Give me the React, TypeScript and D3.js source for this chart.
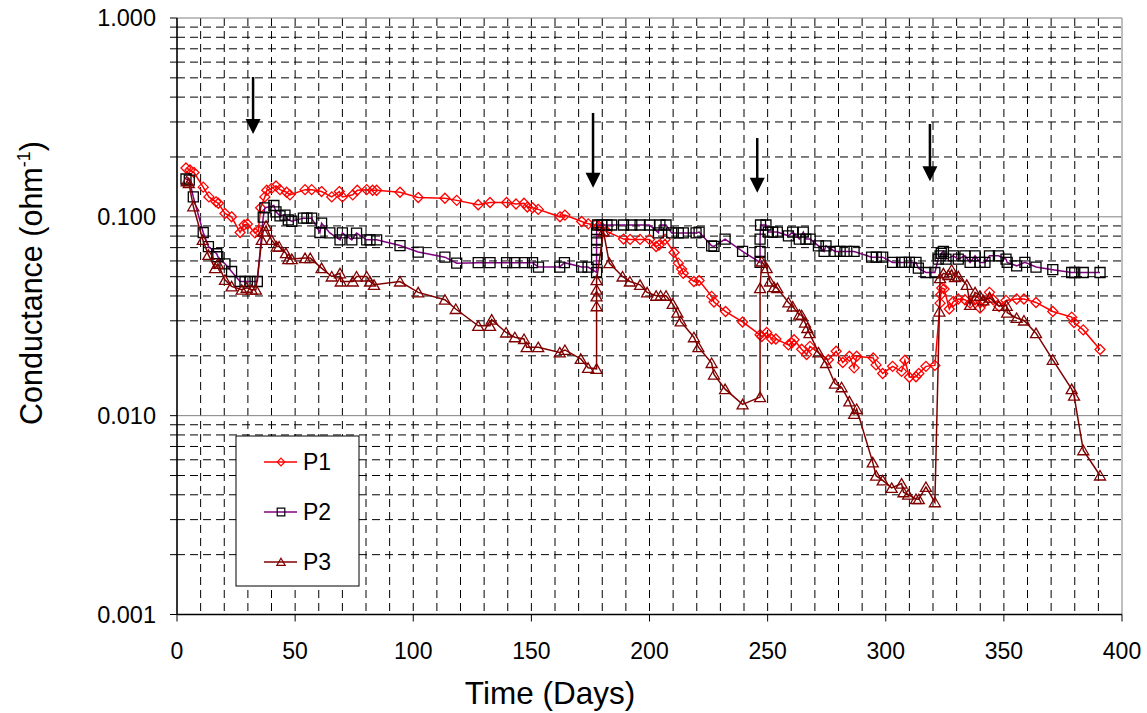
import React from 'react';
import * as d3 from 'd3';

// [day, conductance]
const p1: [number, number][] = [
  [3.8, 0.176], [5.5, 0.172], [7.2, 0.167], [11.1, 0.141], [13.5, 0.126], [16.5, 0.119], [17.5, 0.117],
  [20.3, 0.104], [23.1, 0.1], [26.7, 0.0834], [28.4, 0.091], [29.8, 0.092], [33, 0.083], [34.4, 0.085],
  [35.4, 0.111], [37.2, 0.126], [38, 0.136], [40, 0.139], [41.9, 0.143], [43.6, 0.137], [46.4, 0.133],
  [47.8, 0.129], [54.2, 0.137], [57, 0.137], [61.2, 0.134], [65.5, 0.126], [68.7, 0.134], [70, 0.126],
  [74.4, 0.129], [76.3, 0.136], [80.3, 0.137], [82.8, 0.136], [84.5, 0.136], [94.4, 0.133], [102.1, 0.125],
  [113.4, 0.124], [118.4, 0.121], [127.5, 0.115], [132.5, 0.118], [139.5, 0.118], [143.5, 0.116],
  [146.9, 0.117], [148.3, 0.112], [150.5, 0.111], [152.9, 0.109], [162.1, 0.1], [164.2, 0.102],
  [171.3, 0.0947], [174.1, 0.0922], [177, 0.091], [178.5, 0.09], [180, 0.088], [181.9, 0.0844],
  [189, 0.0773], [191.8, 0.077], [196, 0.077], [200, 0.077], [202.8, 0.0709], [204, 0.072], [206.6, 0.077],
  [210.4, 0.0662], [212.2, 0.0585], [213.6, 0.0546], [214.3, 0.052], [218.8, 0.0473], [221, 0.0478],
  [226.3, 0.0398], [227.3, 0.0373], [232.2, 0.0334], [239.4, 0.0296], [246.8, 0.0255], [247.5, 0.025],
  [249.6, 0.0262], [251.7, 0.0243], [253.5, 0.0243], [258.8, 0.0227], [260.2, 0.0232], [261.2, 0.0241],
  [264.4, 0.0216], [266.5, 0.0203], [267.9, 0.0223], [275.7, 0.0191], [279, 0.0211], [281.8, 0.0185],
  [284.6, 0.0199], [286.6, 0.0174], [287.7, 0.0199], [294.7, 0.0195], [295.9, 0.018], [298.7, 0.0163],
  [302.9, 0.0177], [306.7, 0.0167], [308.1, 0.019], [310, 0.0156], [312.8, 0.0157], [314, 0.0163],
  [317, 0.0177], [320.8, 0.0179], [323, 0.0368], [323.3, 0.0406], [323.7, 0.0438], [324.7, 0.0434],
  [326.9, 0.0344], [328.6, 0.0375], [330.7, 0.0386], [333.5, 0.0383], [335.7, 0.0368], [337.8, 0.0383],
  [339.9, 0.0348], [342, 0.0375], [343.9, 0.0417], [345.5, 0.0383], [348, 0.0354], [350.9, 0.038],
  [355.4, 0.0386], [358.5, 0.0386], [363.6, 0.0371], [370.7, 0.0334], [378.7, 0.0313], [379.7, 0.0294],
  [383.6, 0.027], [390.7, 0.0215],
];

const p2: [number, number][] = [
  [3.8, 0.155], [5.2, 0.153], [6.9, 0.126], [11.1, 0.0834], [13.3, 0.0709], [16.8, 0.0652], [17.3, 0.063],
  [20.3, 0.058], [23.1, 0.0531], [26.7, 0.0473], [28.8, 0.0473], [30.9, 0.0473], [34, 0.0473],
  [36.5, 0.0996], [37.2, 0.111], [41, 0.114], [41.9, 0.106], [43.6, 0.101], [45.7, 0.102], [47.1, 0.0966],
  [48.6, 0.095], [53.5, 0.0985], [55, 0.0985], [57, 0.0985], [60.5, 0.0834], [61.2, 0.093], [64.7, 0.083],
  [69, 0.0766], [70, 0.083], [74, 0.0766], [76, 0.0828], [80.3, 0.0766], [81.7, 0.0766], [84.5, 0.0766],
  [94.4, 0.0717], [102.1, 0.0665], [113.4, 0.0627], [118.4, 0.0585], [127.5, 0.0588], [132.5, 0.0588],
  [139.5, 0.0588], [143, 0.0588], [147, 0.0588], [150.5, 0.0588], [153, 0.0559], [162, 0.0559],
  [164, 0.0588], [171.3, 0.0559], [174, 0.0559], [177.6, 0.0525], [177.6, 0.061], [177.6, 0.068],
  [177.6, 0.077], [177.6, 0.083], [178, 0.091], [179.8, 0.091], [182, 0.091], [184, 0.091], [189, 0.091],
  [192.5, 0.091], [196, 0.091], [200, 0.091], [203.8, 0.083], [204.4, 0.091], [207, 0.091], [209.4, 0.083],
  [212.2, 0.083], [214.3, 0.083], [219.7, 0.083], [221, 0.0838], [226.3, 0.0715], [227.3, 0.071],
  [232, 0.0773], [239.4, 0.067], [246.8, 0.059], [246.8, 0.067], [246.8, 0.0773], [247, 0.091],
  [249.3, 0.091], [250.3, 0.0838], [252.1, 0.0838], [254.1, 0.0838], [258.8, 0.0803], [260.6, 0.0838],
  [263.4, 0.0773], [265.1, 0.0838], [266.2, 0.0773], [268, 0.0773], [271.5, 0.0715], [273.9, 0.067],
  [274.7, 0.0715], [278.5, 0.067], [280.7, 0.067], [283.5, 0.067], [286.6, 0.067], [294, 0.0627],
  [296, 0.0627], [298.7, 0.0627], [302.9, 0.059], [306.7, 0.059], [308.1, 0.059], [310, 0.059],
  [312.8, 0.059], [313.8, 0.0552], [317, 0.0525], [320.8, 0.0525], [322.2, 0.0613], [323, 0.0637],
  [323.5, 0.0656], [324.4, 0.067], [325.5, 0.0613], [328.6, 0.0637], [330.7, 0.0613], [333.5, 0.0637],
  [335.7, 0.059], [337.8, 0.0637], [339.9, 0.059], [342, 0.059], [343.9, 0.0637], [347.7, 0.0637],
  [350.9, 0.0613], [351.4, 0.059], [355.4, 0.0567], [358.9, 0.059], [363.6, 0.0559], [370.7, 0.0542],
  [378.7, 0.0525], [380, 0.0525], [383.6, 0.0525], [390.7, 0.0525],
];

const p3: [number, number][] = [
  [4.1, 0.151], [5, 0.148], [6.9, 0.113], [10.9, 0.0766], [13.3, 0.0644], [16.1, 0.0552], [17.3, 0.058],
  [20.3, 0.0482], [23.1, 0.0447], [27.4, 0.043], [29.5, 0.044], [31.6, 0.043], [33.4, 0.043],
  [35.9, 0.0766], [36.5, 0.0844], [37.7, 0.0901], [40, 0.0766], [42.2, 0.0709], [43.2, 0.0709],
  [46.1, 0.0657], [47.1, 0.0613], [48.6, 0.0613], [54.2, 0.062], [56.4, 0.062], [61.2, 0.0552],
  [65.5, 0.0501], [69, 0.052], [69.3, 0.0473], [74.4, 0.0473], [76, 0.0501], [80.3, 0.0501],
  [81.7, 0.0473], [83.4, 0.0455], [94.4, 0.0473], [102.1, 0.0417], [113.4, 0.0383], [118, 0.0344],
  [127.5, 0.0283], [132.5, 0.0283], [133.2, 0.0304], [139.3, 0.0262], [143, 0.0248], [146.9, 0.0243],
  [148, 0.0221], [152.9, 0.0221], [162, 0.0208], [164.2, 0.0214], [170.9, 0.0193], [174, 0.0174],
  [177.6, 0.0172], [177.6, 0.0355], [177.6, 0.0398], [177.6, 0.043], [177.6, 0.048], [180.5, 0.0844],
  [183, 0.0585], [188.6, 0.0501], [191.7, 0.0473], [196, 0.0455], [199, 0.0417], [202.8, 0.0401],
  [204.7, 0.0401], [207, 0.0401], [209.8, 0.0365], [211.8, 0.033], [213.2, 0.0298], [218.8, 0.0248],
  [220.7, 0.0221], [226.3, 0.0184], [227.3, 0.0161], [232, 0.0136], [239.4, 0.0114], [246.8, 0.0124],
  [246.8, 0.0438], [247.5, 0.0596], [249.6, 0.0552], [251, 0.0473], [252.7, 0.0443], [254.1, 0.0438],
  [258.8, 0.0371], [260.6, 0.0354], [263.4, 0.0322], [264.4, 0.032], [265.8, 0.0294], [266.8, 0.0276],
  [267.7, 0.026], [271.5, 0.0208], [274.7, 0.0184], [278.5, 0.0145], [281.3, 0.0139], [284.6, 0.0118],
  [286.6, 0.0102], [287.7, 0.0108], [294.5, 0.00582], [295.9, 0.00499], [298.7, 0.00473],
  [302.5, 0.00433], [306.7, 0.00455], [307.5, 0.00412], [309.5, 0.00401], [312.8, 0.00381],
  [314, 0.0038], [317, 0.00438], [320.8, 0.00367], [322.7, 0.0334], [323, 0.0492], [324.4, 0.052],
  [326.5, 0.051], [327.9, 0.0542], [329.3, 0.0497], [330.7, 0.0502], [334.3, 0.0455], [335.7, 0.0361],
  [337.8, 0.0417], [339.9, 0.0401], [341.3, 0.038], [344, 0.0392], [347.7, 0.0357], [351.2, 0.0357],
  [351.4, 0.033], [355.4, 0.031], [358.5, 0.0301], [363.6, 0.026], [370.7, 0.0191], [378.7, 0.0136],
  [379.7, 0.0126], [383.6, 0.0067], [390.7, 0.005],
];

const seriesNames = ['P1', 'P2', 'P3'];
const xTickLabels = [0, 50, 100, 150, 200, 250, 300, 350, 400];

// arrows marking the events
const arrowDays = [32.2, 176.1, 245.6, 318.7];
const arrowFrom = [0.505, 0.333, 0.249, 0.293];
const arrowTo = [0.261, 0.14, 0.132, 0.151];

const W = 1147;
const H = 713;
const margin = { top: 18, right: 25, bottom: 98.5, left: 177 };
const font = "'Liberation Sans', Arial, sans-serif";

const styles = [
  { line: '#ff0000', marker: '#ff0000', shape: 'diamond' },
  { line: '#800080', marker: '#000000', shape: 'square' },
  { line: '#800000', marker: '#800000', shape: 'triangle' },
];

function markerPath(shape: string, r: number) {
  if (shape === 'diamond') return `M0,${-r}L${r},0L0,${r}L${-r},0Z`;
  if (shape === 'square') return `M${-r},${-r}H${r}V${r}H${-r}Z`;
  return `M0,${-r}L${r * 1.1},${r * 0.9}L${-r * 1.1},${r * 0.9}Z`;
}

export default function App() {
  const x = d3.scaleLinear().domain([0, 400]).range([margin.left, W - margin.right]);
  const y = d3.scaleLog().domain([0.001, 1]).range([H - margin.bottom, margin.top]);
  const [x0, x1] = x.range();
  const [yb, yt] = y.range();

  const line = d3.line<[number, number]>().x(d => x(d[0])).y(d => y(d[1]));
  const yAll = y.ticks();
  const yMajor = yAll.filter(v => Math.abs(Math.log10(v) - Math.round(Math.log10(v))) < 1e-9);
  const yMinor = yAll.filter(v => !yMajor.includes(v));
  const xGrid = d3.range(10, 400, 10);
  const data = [p1, p2, p3];

  return (
    <svg width={W} height={H} style={{ position: 'absolute', left: 0, top: 0, background: '#fff' }} fontFamily={font}>
      {/* grid */}
      {yMinor.map(v => (
        <line key={'hy' + v} x1={x0} x2={x1} y1={y(v)} y2={y(v)} stroke="#000" strokeWidth={1} strokeDasharray="8,5" />
      ))}
      {xGrid.map(v => (
        <line key={'vx' + v} x1={x(v)} x2={x(v)} y1={yt} y2={yb} stroke="#000" strokeWidth={1} strokeDasharray="8,5" />
      ))}
      {yMajor.filter(v => v > 0.001).map(v => (
        <line key={'my' + v} x1={x0} x2={x1} y1={y(v)} y2={y(v)} stroke="#808080" strokeWidth={1} />
      ))}
      <line x1={x1} x2={x1} y1={yt} y2={yb} stroke="#808080" strokeWidth={1} />

      {/* axes */}
      <line x1={x0} x2={x0} y1={yt} y2={yb} stroke="#000" strokeWidth={1.6} />
      <line x1={x0} x2={x1} y1={yb} y2={yb} stroke="#000" strokeWidth={1.6} />
      {yAll.map(v => (
        <line key={'ty' + v} x1={x0 - 7} x2={x0} y1={y(v)} y2={y(v)} stroke="#000" strokeWidth={1} />
      ))}
      {xTickLabels.map(v => (
        <g key={'tx' + v}>
          <line x1={x(v)} x2={x(v)} y1={yb} y2={yb + 7} stroke="#000" strokeWidth={1} />
          <text x={x(v)} y={yb + 44} fontSize={23} textAnchor="middle" fill="#000">{v}</text>
        </g>
      ))}
      {yMajor.map(v => (
        <text key={'ly' + v} x={x0 - 21} y={y(v)} dy="0.35em" fontSize={23.5} textAnchor="end" fill="#000">
          {d3.format('.3f')(v)}
        </text>
      ))}

      {/* series */}
      {data.map((s, i) => (
        <g key={'s' + i}>
          <path d={line(s) || ''} fill="none" stroke={styles[i].line} strokeWidth={1.5} />
          {s.map((d, j) => (
            <path key={j} d={markerPath(styles[i].shape, 5)} transform={`translate(${x(d[0])},${y(d[1])})`}
              fill="none" stroke={styles[i].marker} strokeWidth={1.3} />
          ))}
        </g>
      ))}

      {/* arrows */}
      {arrowDays.map((d, i) => {
        const ax = x(d);
        const ya = y(arrowFrom[i]);
        const yb2 = y(arrowTo[i]);
        return (
          <g key={'a' + i}>
            <line x1={ax} x2={ax} y1={ya} y2={yb2 - 12} stroke="#000" strokeWidth={2.5} />
            <path d={`M${ax - 7.5},${yb2 - 15}L${ax + 7.5},${yb2 - 15}L${ax},${yb2}Z`} fill="#000" />
          </g>
        );
      })}

      {/* legend */}
      <rect x={236} y={436} width={123} height={150} fill="#fff" stroke="#000" strokeWidth={1} />
      {seriesNames.map((n, i) => {
        const ly = 462 + i * 50;
        return (
          <g key={'lg' + n}>
            <line x1={264} x2={297} y1={ly} y2={ly} stroke={styles[i].line} strokeWidth={1.5} />
            <path d={markerPath(styles[i].shape, 3.8)} transform={`translate(281,${ly})`} fill="none"
              stroke={styles[i].marker} strokeWidth={1.2} />
            <text x={303} y={ly} dy="0.36em" fontSize={23} fill="#000">{n}</text>
          </g>
        );
      })}

      {/* titles */}
      <text x={550} y={704} fontSize={31.5} textAnchor="middle" fill="#000">Time (Days)</text>
      <text transform="translate(42,283) rotate(-90)" fontSize={30.5} textAnchor="middle" fill="#000">
        Conductance (ohm<tspan fontSize={18} dy={-12}>-1</tspan><tspan dy={12}>)</tspan>
      </text>
    </svg>
  );
}
